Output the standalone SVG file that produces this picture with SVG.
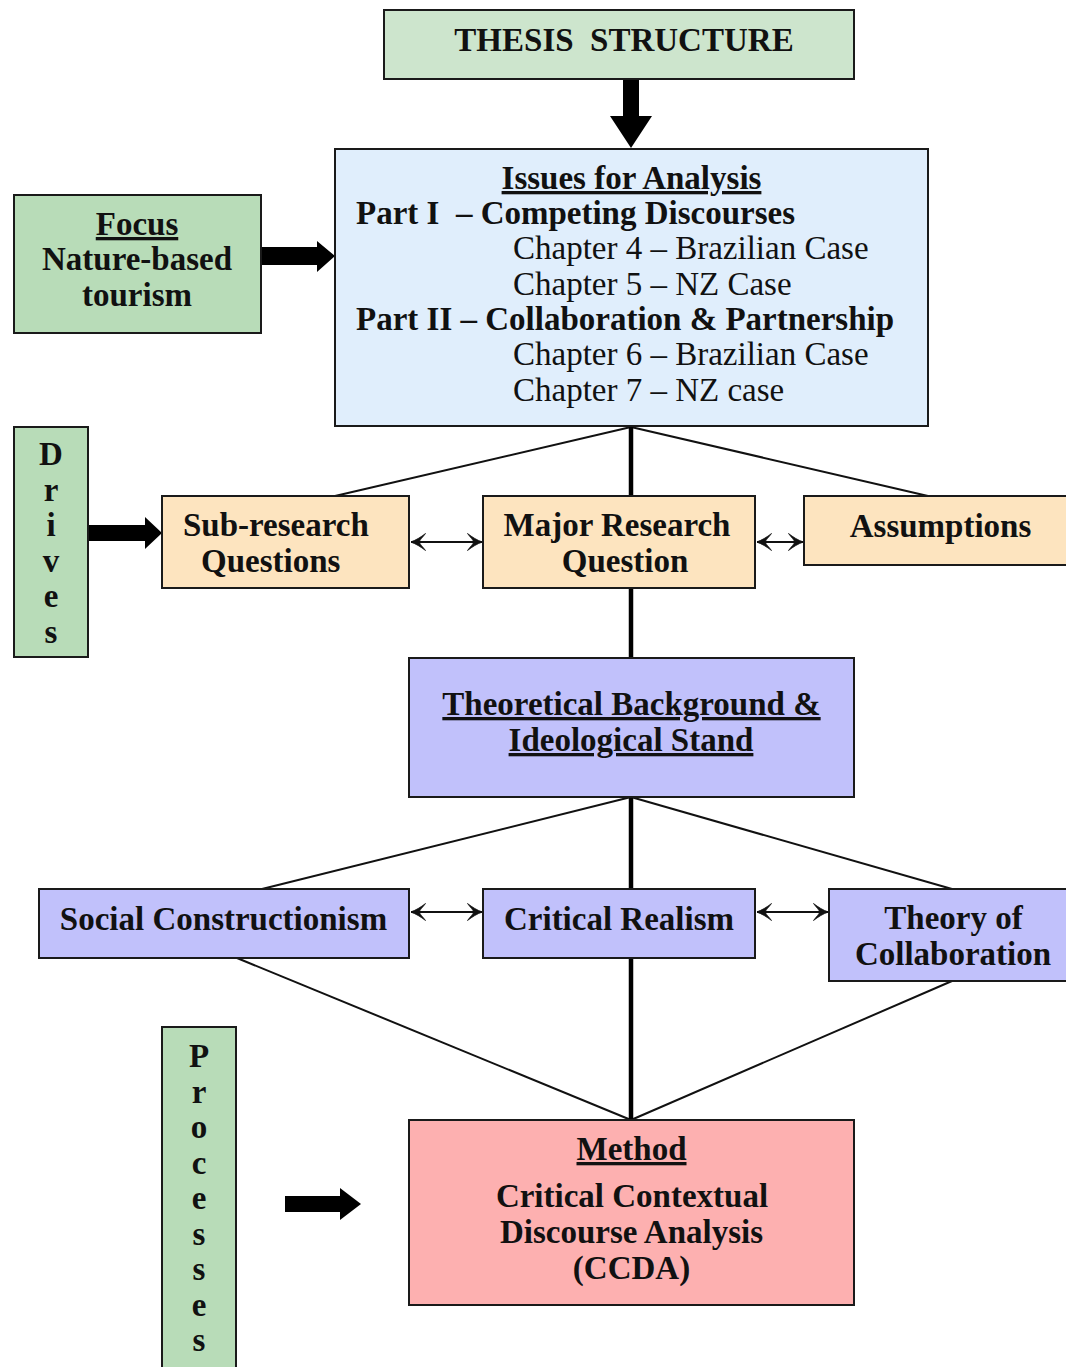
<svg xmlns="http://www.w3.org/2000/svg" width="1066" height="1367" viewBox="0 0 1066 1367">
  <style>
    text { font-family: "Liberation Serif", "Times New Roman", serif; font-size: 33px; fill: #111; white-space: pre; }
    .b { font-weight: bold; }
    .c { text-anchor: middle; }
    .u { text-decoration: underline; }
    .box { stroke: #1a1a1a; stroke-width: 2; }
    .green-lt { fill: #cde5cd; }
    .green { fill: #b8dcb8; }
    .blue { fill: #e0eefc; }
    .peach { fill: #fde4bf; }
    .lav { fill: #c1c1fb; }
    .pink { fill: #fdb0b0; }
    .thin { stroke: #111; stroke-width: 2; fill: none; }
    .thick { stroke: #000; stroke-width: 4.5; fill: none; }
    .dbl { stroke: #111; stroke-width: 2.2; fill: none; marker-start: url(#head); marker-end: url(#head); }
    .block { fill: #000; }
  </style>
  <defs>
    <!-- curved-barb arrowhead for the two-way links -->
    <marker id="head" viewBox="0 0 16 18" refX="15.5" refY="9" markerWidth="16" markerHeight="18" markerUnits="userSpaceOnUse" orient="auto-start-reverse">
      <path d="M16,9 C11,7.5 5.5,4 1,0.5 C3.5,4 7,7 7,9 C7,11 3.5,14 1,17.5 C5.5,14 11,10.5 16,9 Z" fill="#111" stroke="#111" stroke-width="0.8" stroke-linejoin="round"/>
    </marker>
  </defs>

  <!-- connectors -->
  <g id="connectors">
    <!-- block arrows -->
    <path class="block" d="M623,79 H639 V116 H652 L631,148 L610,116 H623 Z"/>
    <path class="block" d="M261,247 H317 V241 L335,256 L317,272 V265 H261 Z"/>
    <path class="block" d="M88,525 H145 V517 L162,533 L145,549 V541 H88 Z"/>
    <path class="block" d="M285,1196 H340 V1188 L361,1204 L340,1220 V1212 H285 Z"/>

    <!-- issues fan-out -->
    <line class="thin" x1="631" y1="427" x2="335" y2="496"/>
    <line class="thin" x1="631" y1="427" x2="928" y2="496"/>
    <line class="thick" x1="631" y1="427" x2="631" y2="496"/>
    <line class="thick" x1="631" y1="588" x2="631" y2="658"/>

    <!-- theory fan-out -->
    <line class="thin" x1="631" y1="797" x2="262" y2="889"/>
    <line class="thin" x1="631" y1="797" x2="952" y2="889"/>
    <line class="thick" x1="631" y1="797" x2="631" y2="889"/>

    <!-- into method -->
    <line class="thin" x1="237" y1="958" x2="631" y2="1120"/>
    <line class="thin" x1="952" y1="981" x2="631" y2="1120"/>
    <line class="thick" x1="631" y1="958" x2="631" y2="1120"/>

    <!-- two-way links -->
    <line class="dbl" x1="411" y1="542" x2="482" y2="542"/>
    <line class="dbl" x1="757" y1="542" x2="803" y2="542"/>
    <line class="dbl" x1="411" y1="912" x2="482" y2="912"/>
    <line class="dbl" x1="757" y1="912" x2="828" y2="912"/>
  </g>

  <g id="thesis">
    <rect class="box green-lt" x="384" y="10" width="470" height="69"/>
    <text class="b c" x="624" y="51">THESIS  STRUCTURE</text>
  </g>

  <g id="focus">
    <rect class="box green" x="14" y="195" width="247" height="138"/>
    <text class="b c u" x="137" y="235">Focus</text>
    <text class="b c" x="137" y="270">Nature-based</text>
    <text class="b c" x="137" y="306">tourism</text>
  </g>

  <g id="issues">
    <rect class="box blue" x="335" y="149" width="593" height="277"/>
    <text class="b c u" x="631.5" y="189">Issues for Analysis</text>
    <text class="b" x="356" y="224">Part I  – Competing Discourses</text>
    <text x="513" y="259">Chapter 4 – Brazilian Case</text>
    <text x="513" y="295">Chapter 5 – NZ Case</text>
    <text class="b" x="356" y="330">Part II – Collaboration &amp; Partnership</text>
    <text x="513" y="365">Chapter 6 – Brazilian Case</text>
    <text x="513" y="401">Chapter 7 – NZ case</text>
  </g>

  <g id="drives">
    <rect class="box green" x="14" y="427" width="74" height="230"/>
    <text class="b c" x="51" y="465">D</text>
    <text class="b c" x="51" y="500.5">r</text>
    <text class="b c" x="51" y="536">i</text>
    <text class="b c" x="51" y="571.5">v</text>
    <text class="b c" x="51" y="607">e</text>
    <text class="b c" x="51" y="642.5">s</text>
  </g>

  <g id="sub-research">
    <rect class="box peach" x="162" y="496" width="247" height="92"/>
    <text class="b" x="183" y="536">Sub-research</text>
    <text class="b" x="201" y="572">Questions</text>
  </g>

  <g id="major-question">
    <rect class="box peach" x="483" y="496" width="272" height="92"/>
    <text class="b c" x="617" y="536">Major Research</text>
    <text class="b c" x="625" y="572">Question</text>
  </g>

  <g id="assumptions">
    <rect class="box peach" x="804" y="496" width="270" height="69"/>
    <text class="b c" x="940.5" y="537">Assumptions</text>
  </g>

  <g id="theoretical">
    <rect class="box lav" x="409" y="658" width="445" height="139"/>
    <text class="b c u" x="631.5" y="715">Theoretical Background &amp;</text>
    <text class="b c u" x="631" y="751">Ideological Stand</text>
  </g>

  <g id="social-constructionism">
    <rect class="box lav" x="39" y="889" width="370" height="69"/>
    <text class="b c" x="223.5" y="930">Social Constructionism</text>
  </g>

  <g id="critical-realism">
    <rect class="box lav" x="483" y="889" width="272" height="69"/>
    <text class="b c" x="619" y="930">Critical Realism</text>
  </g>

  <g id="theory-collaboration">
    <rect class="box lav" x="829" y="889" width="245" height="92"/>
    <text class="b c" x="953.5" y="929">Theory of</text>
    <text class="b c" x="953" y="965">Collaboration</text>
  </g>

  <g id="processes">
    <rect class="box green" x="162" y="1027" width="74" height="350"/>
    <text class="b c" x="199" y="1067">P</text>
    <text class="b c" x="199" y="1102.5">r</text>
    <text class="b c" x="199" y="1138">o</text>
    <text class="b c" x="199" y="1173.5">c</text>
    <text class="b c" x="199" y="1209">e</text>
    <text class="b c" x="199" y="1244.5">s</text>
    <text class="b c" x="199" y="1280">s</text>
    <text class="b c" x="199" y="1315.5">e</text>
    <text class="b c" x="199" y="1351">s</text>
  </g>

  <g id="method">
    <rect class="box pink" x="409" y="1120" width="445" height="185"/>
    <text class="b c u" x="631.5" y="1160">Method</text>
    <text class="b c" x="632" y="1207">Critical Contextual</text>
    <text class="b c" x="631.5" y="1243">Discourse Analysis</text>
    <text class="b c" x="631.5" y="1279">(CCDA)</text>
  </g>
</svg>
